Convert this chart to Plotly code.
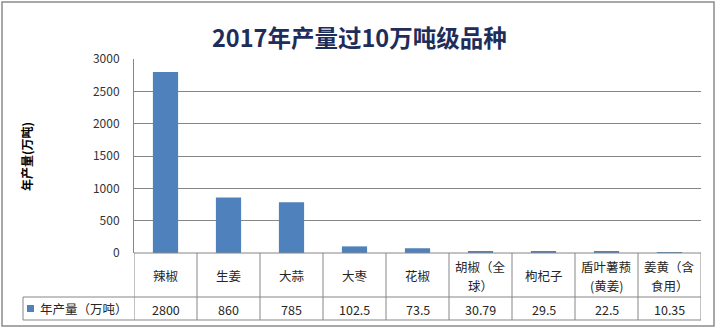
import plotly.graph_objects as go

categories = ["辣椒", "生姜", "大蒜", "大枣", "花椒", "胡椒（全<br>球）", "枸杞子", "盾叶薯蓣<br>(黄姜)", "姜黄（含<br>食用）"]
values = [2800, 860, 785, 102.5, 73.5, 30.79, 29.5, 22.5, 10.35]
value_labels = ["2800", "860", "785", "102.5", "73.5", "30.79", "29.5", "22.5", "10.35"]
series_name = "年产量（万吨）"
y_ticks = [0, 500, 1000, 1500, 2000, 2500, 3000]

W, H = 719, 328
L, R, T, B = 134, 701, 59, 253

def px(x):
    return (x - L) / (R - L)

def py(y):
    return (B - y) / (B - T)

BAR = "#4F81BD"
LINE = "#868686"
FONT = "Noto Sans CJK SC"
TXT = "#262626"

xs = list(range(len(categories)))
fig = go.Figure(go.Bar(x=xs, y=values, width=0.4, marker=dict(color=BAR, line=dict(width=0)),
                       name=series_name, showlegend=False))

shapes = []
ann = []
row1 = 297
row2 = 320
# outer chart border
shapes.append(dict(type="rect", xref="paper", yref="paper", x0=px(2), x1=px(714), y0=py(2), y1=py(326),
                   line=dict(color="#8C8C8C", width=1.5), layer="below"))
# table horizontal lines
shapes.append(dict(type="line", xref="paper", yref="paper", x0=px(L), x1=px(R), y0=0, y1=0, line=dict(color=LINE, width=1)))
for yy in (row1, row2):
    shapes.append(dict(type="line", xref="paper", yref="paper", x0=px(23), x1=px(R), y0=py(yy), y1=py(yy),
                       line=dict(color=LINE, width=1)))
# vertical lines
shapes.append(dict(type="line", xref="paper", yref="paper", x0=px(23), x1=px(23), y0=py(row1), y1=py(row2),
                   line=dict(color=LINE, width=1)))
for i in range(len(categories) + 1):
    shapes.append(dict(type="line", xref="x", yref="paper", x0=i - 0.5, x1=i - 0.5, y0=0, y1=py(row2),
                       line=dict(color=LINE, width=1)))
# legend key
shapes.append(dict(type="rect", xref="paper", yref="paper", x0=px(27), x1=px(34), y0=py(305), y1=py(312),
                   fillcolor=BAR, line=dict(width=0)))

for i, (c, v) in enumerate(zip(categories, value_labels)):
    lines = c.split("<br>")
    if len(lines) == 1:
        centers = [275]
    else:
        centers = [266.5, 285]
    for ln, cy in zip(lines, centers):
        ann.append(dict(x=i, xref="x", y=py(cy), yref="paper", text=ln, showarrow=False,
                        xanchor="center", yanchor="middle",
                        font=dict(family=FONT, size=12.5, color=TXT), align="center"))
    ann.append(dict(x=i, xref="x", y=py(309), yref="paper", text=v, showarrow=False,
                    xanchor="center", yanchor="middle",
                    font=dict(family=FONT, size=12.5, color=TXT)))
ann.append(dict(x=px(38), xref="paper", y=py(308.5), yref="paper", text=series_name,
                showarrow=False, xanchor="left", yanchor="middle", font=dict(family=FONT, size=12.5, color=TXT)))
ann.append(dict(x=px(359), xref="paper", y=py(37), yref="paper", text="<b>2017年产量过10万吨级品种</b>",
                showarrow=False, xanchor="center", yanchor="middle",
                font=dict(family=FONT, size=23.5, color="#1F2D5A")))
ann.append(dict(x=px(26), xref="paper", y=py(157), yref="paper", text="<b>年产量(万吨)</b>", textangle=-90,
                showarrow=False, xanchor="center", yanchor="middle", font=dict(family=FONT, size=12, color="#000")))

fig.update_layout(
    width=W, height=H,
    margin=dict(l=L, r=W - R, t=T, b=H - B, pad=0),
    paper_bgcolor="white", plot_bgcolor="white",
    shapes=shapes, annotations=ann,
    xaxis=dict(range=[-0.5, len(categories) - 0.5], showticklabels=False, showgrid=False, zeroline=False,
               showline=False, ticks=""),
    yaxis=dict(range=[0, 3000], tickvals=y_ticks, showgrid=True, gridcolor=LINE, gridwidth=1,
               showline=True, linecolor=LINE, linewidth=1, ticks="",
               zeroline=False, tickfont=dict(family=FONT, size=12, color="#333"), ticklabelstandoff=11),
    showlegend=False,
)
fig.write_html("out.html")
